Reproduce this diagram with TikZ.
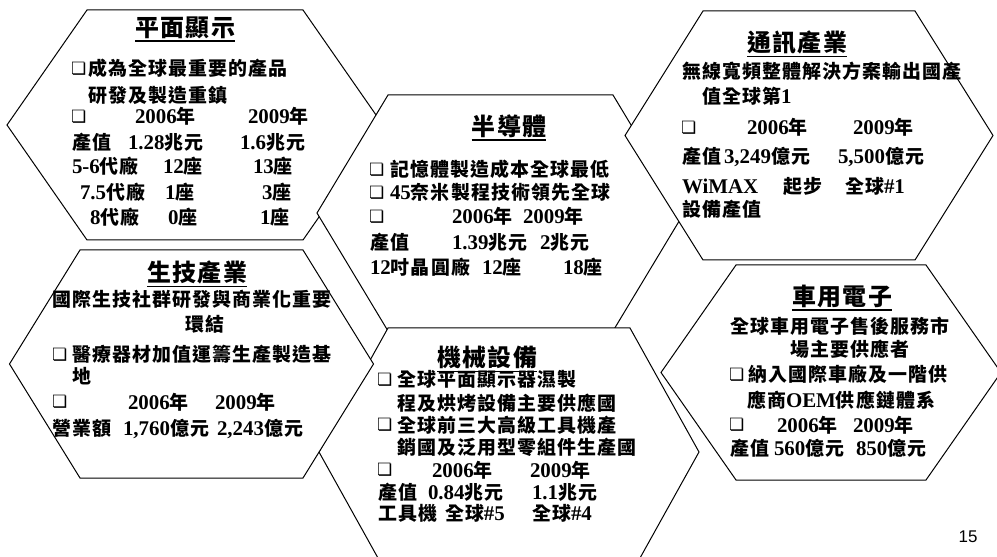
\documentclass[tikz,border=0pt]{standalone}
\usepackage{fontspec}
\setmainfont{Liberation Serif}
\newfontfamily\cjkfont{Noto Sans CJK TC}[LetterSpace=6]
\newfontfamily\dejavu{DejaVu Sans}
\newfontfamily\arialf{Liberation Sans}
\newcounter{tn}
\newcommand\zh[1]{{\cjkfont\fontsize{19}{23}\selectfont #1}}
\newcommand\zhT[1]{{\cjkfont\fontsize{24}{29}\selectfont #1}}
\newcommand\ulx[1]{\vtop{\hbox{#1}\kern1.0bp\hrule height 1.6bp}}
\tikzset{
  hexs/.style={draw=black, fill=white, line width=1bp, line join=miter},
  txt/.style={inner sep=0pt, outer sep=0pt, anchor=base west, font=\fontsize{21}{25}\selectfont\bfseries},
  ttls/.style={inner sep=0pt, outer sep=0pt, anchor=base, font=\fontsize{24}{29}\selectfont\bfseries},
  boxs/.style={inner sep=0pt, outer sep=0pt, anchor=west, font=\dejavu\fontsize{17}{19}\selectfont\bfseries},
}
\newcommand\tx[3]{\stepcounter{tn}\node[txt] (t\arabic{tn}) at (#1,{#2+7}) {#3};}
\newcommand\bx[2]{\stepcounter{tn}\node[boxs] (t\arabic{tn}) at (#1,#2) {❏};}
\newcommand\ttl[3]{\stepcounter{tn}\node[ttls] (t\arabic{tn}) at (#1,{#2+9}) {\ulx{\zhT{#3}}};}
% hexagon: cx, cy, half top width, half vertex width, half height
\newcommand\hexa[5]{\draw[hexs] ({#1-#3},{#2-#5}) -- ({#1+#3},{#2-#5}) -- ({#1+#4},#2) -- ({#1+#3},{#2+#5}) -- ({#1-#3},{#2+#5}) -- ({#1-#4},#2) -- cycle;}
\begin{document}
\begin{tikzpicture}[x=1bp,y=-1bp]
\useasboundingbox (0,0) rectangle (997,557);
\fill[white] (0,0) rectangle (997,557);
\begin{scope}
\clip (0,0) rectangle (997,557);
\hexa{195}{125}{108}{188}{115}
\hexa{500.5}{213}{112.5}{183.5}{118}
\hexa{509}{452}{121}{190}{124}
\hexa{191.5}{364}{111.5}{182}{114}
\hexa{809}{135.5}{106}{184}{124.5}
\hexa{831}{372.5}{95}{170}{107.5}
\end{scope}

% 平面顯示
\ttl{185}{28}{平面顯示}
\bx{71}{69}\tx{88}{69}{\zh{成為全球最重要的產品}}
\tx{88}{96}{\zh{研發及製造重鎮}}
\bx{71}{117}\tx{135}{117}{2006\zh{年}}\tx{248}{117}{2009\zh{年}}
\tx{72}{143}{\zh{產值}}\tx{128}{143}{1.28\zh{兆元}}\tx{240}{143}{1.6\zh{兆元}}
\tx{72}{167}{5-6\zh{代廠}}\tx{163}{167}{12\zh{座}}\tx{253}{167}{13\zh{座}}
\tx{80}{193}{7.5\zh{代廠}}\tx{165}{193}{1\zh{座}}\tx{262}{193}{3\zh{座}}
\tx{90}{218}{8\zh{代廠}}\tx{168}{218}{0\zh{座}}\tx{260}{218}{1\zh{座}}

% 半導體
\ttl{509}{127}{半導體}
\bx{369}{170}\tx{390}{170}{\zh{記憶體製造成本全球最低}}
\bx{369}{193}\tx{390}{193}{45\zh{奈米製程技術領先全球}}
\bx{369}{217}\tx{452}{217}{2006\zh{年}}\tx{523}{217}{2009\zh{年}}
\tx{370}{243}{\zh{產值}}\tx{452}{243}{1.39\zh{兆元}}\tx{540}{243}{2\zh{兆元}}
\tx{370}{268}{12\zh{吋晶圓廠}}\tx{482}{268}{12\zh{座}}\tx{563}{268}{18\zh{座}}

% 通訊產業
\ttl{797}{43}{通訊產業}
\tx{682}{72}{\zh{無線寬頻整體解決方案輸出國產}}
\tx{702}{97}{\zh{值全球第}1}
\bx{681}{128}\tx{747}{128}{2006\zh{年}}\tx{853}{128}{2009\zh{年}}
\tx{682}{157}{\zh{產值}}\tx{724}{157}{3,249\zh{億元}}\tx{838}{157}{5,500\zh{億元}}
\tx{682}{187}{WiMAX}\tx{783}{187}{\zh{起步}}\tx{845}{187}{\zh{全球}\#1}
\tx{682}{210}{\zh{設備產值}}

% 生技產業
\ttl{197}{273}{生技產業}
\tx{52}{300}{\zh{國際生技社群研發與商業化重要}}
\tx{185}{325}{\zh{環結}}
\bx{52}{355}\tx{72}{355}{\zh{醫療器材加值運籌生產製造基}}
\tx{72}{377}{\zh{地}}
\bx{52}{402}\tx{128}{402}{2006\zh{年}}\tx{215}{402}{2009\zh{年}}
\tx{52}{428}{\zh{營業額}}\tx{123}{428}{1,760\zh{億元}}\tx{217}{428}{2,243\zh{億元}}

% 機械設備
\ttl{487}{358}{機械設備}
\bx{377}{380}\tx{397}{380}{\zh{全球平面顯示器濕製}}
\tx{397}{403}{\zh{程及烘烤設備主要供應國}}
\bx{377}{425}\tx{397}{425}{\zh{全球前三大高級工具機產}}
\tx{397}{447}{\zh{銷國及泛用型零組件生產國}}
\bx{377}{470}\tx{432}{470}{2006\zh{年}}\tx{530}{470}{2009\zh{年}}
\tx{378}{492}{\zh{產值}}\tx{428}{492}{0.84\zh{兆元}}\tx{532}{492}{1.1\zh{兆元}}
\tx{378}{513}{\zh{工具機}}\tx{445}{513}{\zh{全球}\#5}\tx{532}{513}{\zh{全球}\#4}

% 車用電子
\ttl{842}{297}{車用電子}
\tx{730}{327}{\zh{全球車用電子售後服務市}}
\tx{790}{350}{\zh{場主要供應者}}
\bx{729}{375}\tx{748}{375}{\zh{納入國際車廠及一階供}}
\tx{747}{400}{\zh{應商}OEM\zh{供應鏈體系}}
\bx{729}{425}\tx{777}{425}{2006\zh{年}}\tx{853}{425}{2009\zh{年}}
\tx{730}{448}{\zh{產值}}\tx{774}{448}{560\zh{億元}}\tx{856}{448}{850\zh{億元}}

% page number
\node[inner sep=0pt, font=\arialf\fontsize{17}{20}\selectfont] (pg) at (968,537) {15};
\end{tikzpicture}
\end{document}
